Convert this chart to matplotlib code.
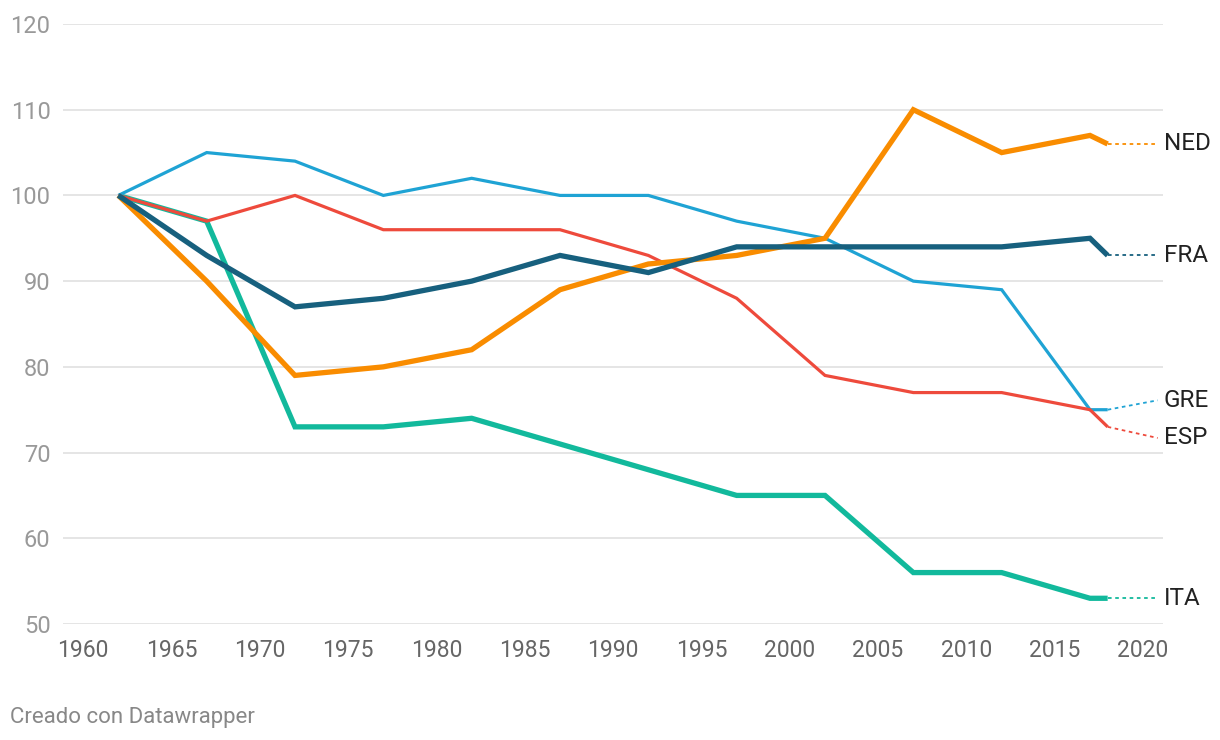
import matplotlib
matplotlib.use("Agg")
import matplotlib.pyplot as plt

years = [1962, 1967, 1972, 1977, 1982, 1987, 1992, 1997, 2002, 2007, 2012, 2017, 2018]
NED = [100, 90, 79, 80, 82, 89, 92, 93, 95, 110, 105, 107, 106]
FRA = [100, 93, 87, 88, 90, 93, 91, 94, 94, 94, 94, 95, 93]
GRE = [100, 105, 104, 100, 102, 100, 100, 97, 95, 90, 89, 75, 75]
ESP = [100, 97, 100, 96, 96, 96, 93, 88, 79, 77, 77, 75, 73]
ITA = [100, 97, 73, 73, 74, 71, 68, 65, 65, 56, 56, 53, 53]

series = [
    ("ITA", ITA, "#12b99c", 3.8, 53),
    ("GRE", GRE, "#1fa3d4", 2.3, 76.1),
    ("ESP", ESP, "#ee4a3c", 2.3, 71.7),
    ("NED", NED, "#f98c00", 3.8, 106),
    ("FRA", FRA, "#17607e", 3.8, 93),
]

x_ticks = list(range(1960, 2021, 5))
y_ticks = list(range(50, 121, 10))

plt.rcParams['font.family'] = ['Roboto', 'DejaVu Sans']

fig = plt.figure(figsize=(12.2, 7.4), dpi=100)
W, H = 1220, 740
ax = fig.add_axes([63 / W, (H - 624) / H, (1163 - 63) / W, (624 - 24) / H])

px_per_year = (1143 - 83) / 60.0
x0 = 1960 + (63 - 83) / px_per_year
x1 = 1960 + (1163 - 83) / px_per_year
ax.set_xlim(x0, x1)
ax.set_ylim(50, 120)

for yv in y_ticks:
    ax.axhline(yv, color="#e3e3e3", lw=1.3, zorder=0)

for name, vals, col, lw, ylab in series:
    ax.plot(years, vals, color=col, lw=lw, solid_joinstyle="miter", solid_capstyle="butt", zorder=3)
    xe = years[-1] + 50 / px_per_year
    ax.plot([years[-1], xe], [vals[-1], ylab], color=col, lw=1.3, ls=(0, (2, 2)), zorder=2, clip_on=False)
    ax.text(years[-1] + 56 / px_per_year, ylab, name, color="#222222", fontsize=17.5,
            va="center", ha="left", clip_on=False)

for s in ax.spines.values():
    s.set_visible(False)

ax.set_xticks(x_ticks)
ax.set_xticklabels([str(v) for v in x_ticks], fontsize=16.5, color="#666666")
ax.set_yticks(y_ticks)
ax.set_yticklabels([str(v) for v in y_ticks], fontsize=17, color="#999999")
ax.tick_params(axis="both", length=0)
ax.tick_params(axis="x", pad=11)
ax.tick_params(axis="y", pad=9)

fig.text(10 / W, 1 - 717 / H, "Creado con Datawrapper", fontsize=16, color="#888888", va="center", ha="left")

fig.savefig("out.png", dpi=100, facecolor="white")
